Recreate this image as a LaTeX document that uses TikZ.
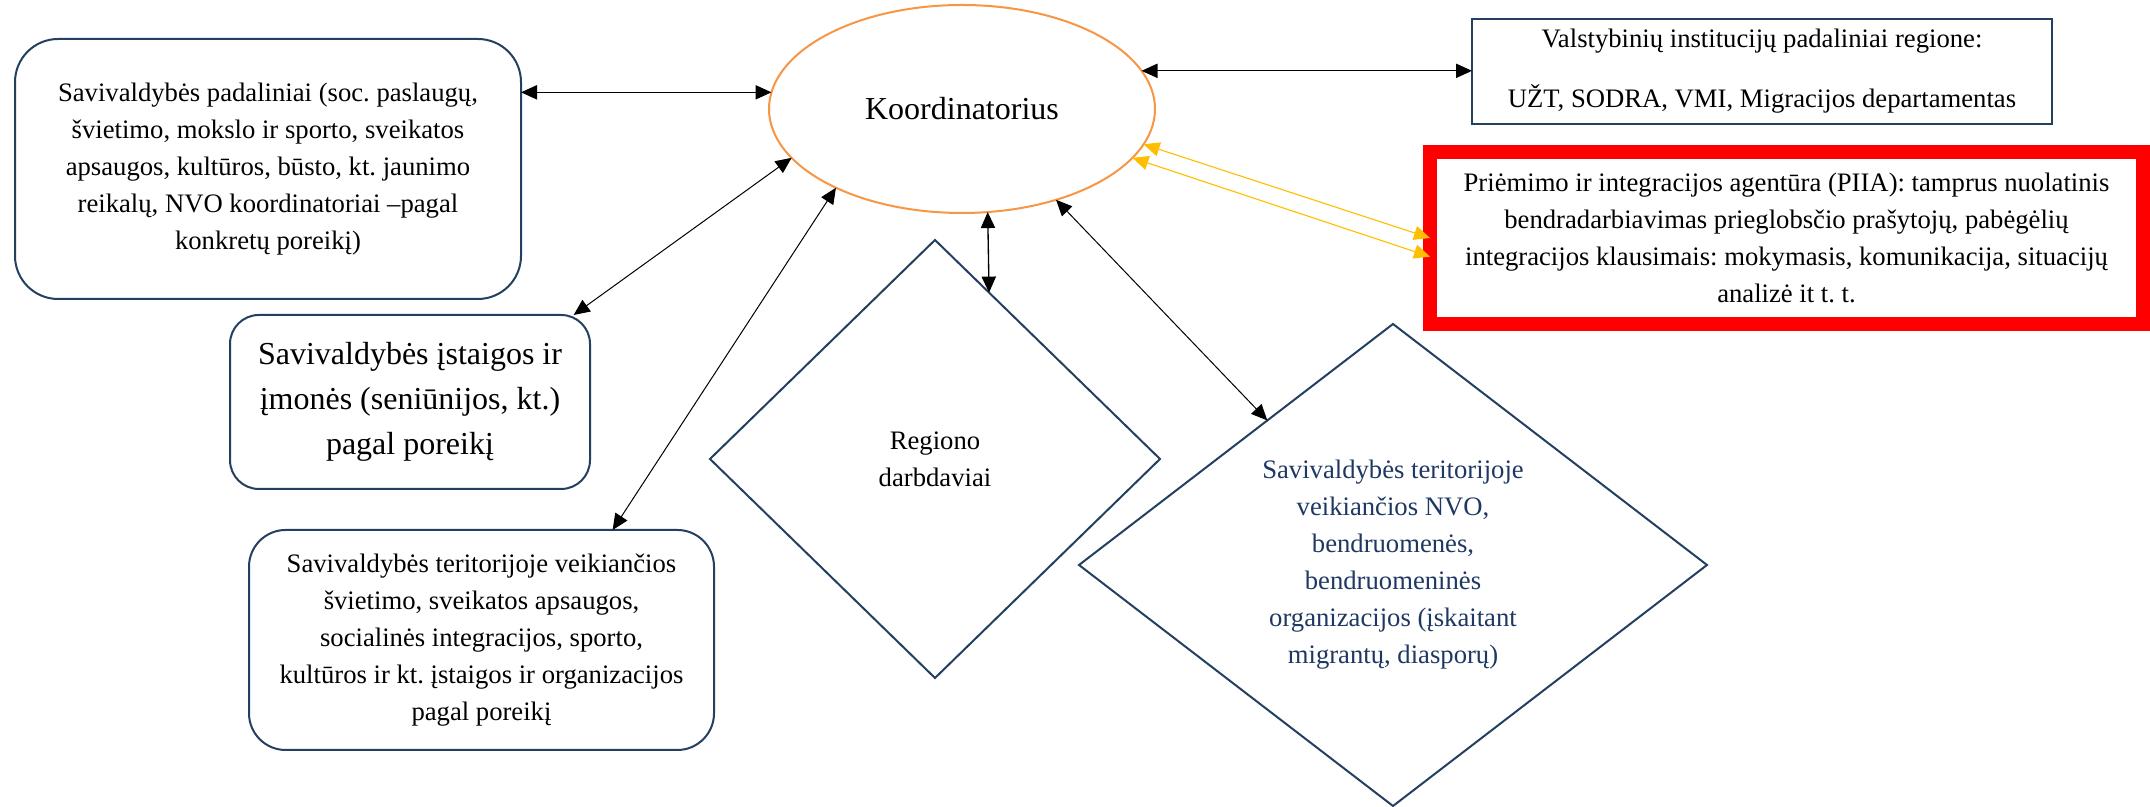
\documentclass[tikz,border=0pt]{standalone}
\usepackage{fontspec}
\setmainfont{Liberation Serif}
\frenchspacing
\usetikzlibrary{shapes}
\usetikzlibrary{shapes.geometric}
\usetikzlibrary{arrows.meta}

\begin{document}
\begin{tikzpicture}[x=1pt,y=1pt,
  txt/.style={align=center,inner sep=0pt,outer sep=0pt,font=\fontsize{12}{16.65}\selectfont},
  bigtxt/.style={font=\fontsize{14.4}{20.25}\selectfont},
  plainbox/.style={txt,rectangle,draw=boxColor,line width=0.9pt},
  roundbox/.style={plainbox},
  dia/.style={txt,diamond,draw=boxColor,line width=0.9pt},
  tips/.style={arrows={Triangle[length=7.2pt,width=6.4pt]-Triangle[length=7.2pt,width=6.4pt]}},
  link/.style={tips,draw=black,line width=0.45pt},
  ylink/.style={tips,draw=linkYellow,line width=0.5pt}]
\definecolor[named]{boxColor}{rgb}{0.14,0.25,0.38}
\definecolor[named]{nvoColor}{rgb}{0.12,0.22,0.39}
\definecolor[named]{koordColor}{rgb}{0.97,0.59,0.27}
\definecolor[named]{linkYellow}{rgb}{1.00,0.75,0.00}
\path[use as bounding box,fill=white] (0,0) rectangle (967.50,363.15);

\node[roundbox,rounded corners=19.4pt,minimum width=227.7pt,minimum height=117pt] (padal) at (120.60,287.10)
  {Savivaldybės padaliniai (soc. paslaugų,\\ švietimo, mokslo ir sporto, sveikatos\\ apsaugos, kultūros, būsto, kt. jaunimo\\ reikalų, NVO koordinatoriai –pagal\\ konkretų poreikį)};

\node[txt,bigtxt,ellipse,draw=koordColor,line width=0.9pt,minimum width=173.7pt,minimum height=93.6pt] (koord) at (432.90,314.10) {Koordinatorius};

\node[plainbox,minimum width=261pt,minimum height=47.25pt] (valst) at (792.90,330.98)
  {Valstybinių institucijų padaliniai regione:\\[10.35pt] UŽT, SODRA, VMI, Migracijos departamentas};

\node[txt,rectangle,draw=red,line width=6.3pt,minimum width=320.85pt,minimum height=77.4pt] (piia) at (803.93,256.05)
  {Priėmimo ir integracijos agentūra (PIIA): tamprus nuolatinis\\ bendradarbiavimas prieglobsčio prašytojų, pabėgėlių\\ integracijos klausimais: mokymasis, komunikacija, situacijų\\ analizė it t. t.};

\node[roundbox,bigtxt,rounded corners=13pt,minimum width=162pt,minimum height=78.3pt] (istaig) at (184.50,182.25)
  {Savivaldybės įstaigos ir\\ įmonės (seniūnijos, kt.)\\ pagal poreikį};

\node[roundbox,rounded corners=16.5pt,minimum width=209.25pt,minimum height=99pt] (terit) at (216.68,75.15)
  {Savivaldybės teritorijoje veikiančios\\ švietimo, sveikatos apsaugos,\\ socialinės integracijos, sporto,\\ kultūros ir kt. įstaigos ir organizacijos\\ pagal poreikį};

\node[dia,minimum width=202.5pt,minimum height=197.1pt] (darbd) at (420.75,156.60) {Regiono\\ darbdaviai};

\node[dia,text=nvoColor,minimum width=282.6pt,minimum height=216.9pt] (nvo) at (626.85,108.90)
  {Savivaldybės teritorijoje\\ veikiančios NVO,\\ bendruomenės,\\ bendruomeninės\\ organizacijos (įskaitant\\ migrantų, diasporų)};

\draw[link,line width=0.6pt] (koord.175) -- (koord.175 -| padal.east);
\draw[link,line width=0.6pt] (koord.12) -- (koord.12 -| valst.west);
\draw[link] (koord.196) -- (istaig.28);
\draw[link] (koord.212) -- (terit.40);
\draw[link,line width=0.6pt] (koord.284) -- (darbd.72);
\draw[link] (koord.316) -- (nvo.131);
\draw[ylink] (koord.349) -- (piia.180);
\draw[ylink] (koord.344) -- (piia.183);
\end{tikzpicture}
\end{document}
